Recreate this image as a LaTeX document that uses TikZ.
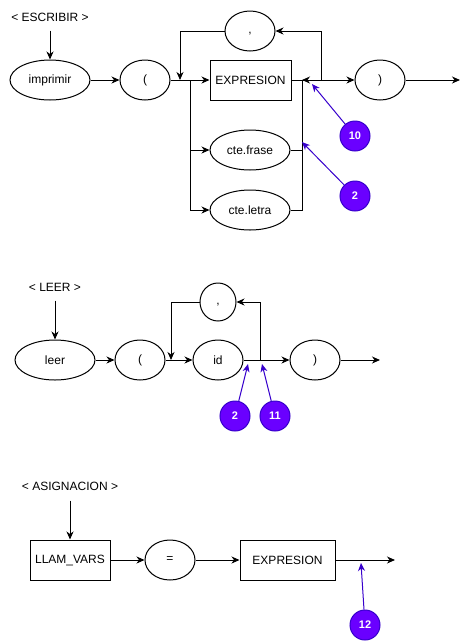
\documentclass[tikz,border=0pt]{standalone}
\usepackage{fontspec}
\setmainfont{Liberation Sans}
\usetikzlibrary{arrows.meta,shapes.geometric}
\definecolor{badgefill}{HTML}{6A00FF}
\definecolor{badgeline}{HTML}{3700CC}
\begin{document}
\begin{tikzpicture}[x=1pt,y=-1pt, font=\fontsize{12}{14}\selectfont,
 line width=1pt,
 arr/.style={-{Stealth[length=8pt,width=7pt,inset=2.5pt]}},
 oval/.style={draw, ellipse, minimum width=#1, minimum height=40pt, inner sep=0pt},
 box/.style={draw, rectangle, minimum width=#1, minimum height=40pt, inner sep=0pt},
 badge/.style={circle, fill=badgefill, draw=badgeline, minimum size=30pt, inner sep=0pt, text=white, font=\fontsize{11}{13}\selectfont\bfseries},
 barr/.style={draw=badgeline, line width=1pt, -{Stealth[length=8pt,width=7pt,inset=2.5pt]}},
 lbl/.style={inner sep=0pt}]
\useasboundingbox (0,0) rectangle (469,641);
% ---------- ESCRIBIR ----------
\node[lbl, minimum height=26pt] (tEsc) at (50,17) {< ESCRIBIR >};
\node[oval=80] (impr) at (50,80) {imprimir};
\node[oval=50] (par1) at (145,80) {(};
\node[oval=50] (coma1) at (250,31) {\strut,};
\node[box=81] (expr1) at (250.5,80) {EXPRESION};
\node[oval=80] (frase) at (250,150) {cte.frase};
\node[oval=80] (letra) at (250,210) {cte.letra};
\node[oval=50] (par2) at (380,80) {)};
\coordinate (j1) at (180,80);
\coordinate (j2) at (190,80);
\coordinate (j3) at (302,80);
\coordinate (j4) at (321,80);
\coordinate (end1) at (460,80);
\draw[arr] (tEsc) -- (impr);
\draw[arr] (impr) -- (par1);
\draw (par1) -- (j2);
\draw[arr] (j2) -- (expr1);
\draw[arr] (j4) |- (coma1.east);
\draw[arr] (coma1.west) -| (j1);
\draw[arr] (j2) |- (letra.west);
\draw[arr] (j2 |- frase) -- (frase.west);
\draw (letra.east) -| (j3);
\draw (frase.east) -- (j3 |- frase);
\draw (expr1.east) -- (j4);
\draw[arr] (j4) -- (j3);
\draw[arr] (j4) -- (par2);
\draw[arr] (par2) -- (end1);
\node[badge] (b10) at (355,136) {10};
\node[badge] (b2a) at (355,196) {2};
\coordinate (t10) at (312,84);
\coordinate (t2a) at (302,142);
\draw[barr] (b10) -- (t10);
\draw[barr] (b2a) -- (t2a);
% ---------- LEER ----------
\node[lbl, minimum height=26pt] (tLeer) at (55,287) {< LEER >};
\node[oval=80] (leer) at (55,360) {leer};
\node[oval=50] (par3) at (140,360) {(};
\node[oval=36, minimum height=38pt] (coma2) at (218,302) {\strut,};
\node[oval=50] (id) at (218,360) {id};
\node[oval=50] (par4) at (315,360) {)};
\coordinate (k1) at (171,360);
\coordinate (k2) at (260,360);
\coordinate (end2) at (380,360);
\draw[arr] (tLeer) -- (leer);
\draw[arr] (leer) -- (par3);
\draw[arr] (par3) -- (id);
\draw[arr] (coma2.west) -| (k1);
\draw (id) -- (k2);
\draw[arr] (k2) |- (coma2.east);
\draw[arr] (k2) -- (par4);
\draw[arr] (par4) -- (end2);
\node[badge] (b2b) at (235,416) {2};
\node[badge] (b11) at (275,416) {11};
\coordinate (t2b) at (248,364);
\coordinate (t11) at (262,364);
\draw[barr] (b2b) -- (t2b);
\draw[barr] (b11) -- (t11);
% ---------- ASIGNACION ----------
\node[lbl, minimum height=28pt] (tAsig) at (70,486) {< ASIGNACION >};
\node[box=80] (llam) at (70,560) {LLAM\_VARS};
\node[oval=50] (eq) at (170,560) {=};
\node[box=95] (expr2) at (287.5,560) {EXPRESION};
\coordinate (end3) at (395,560);
\draw[arr] (tAsig) -- (llam);
\draw[arr] (llam) -- (eq);
\draw[arr] (eq) -- (expr2);
\draw[arr] (expr2) -- (end3);
\node[badge] (b12) at (365,625) {12};
\coordinate (t12) at (361,563);
\draw[barr] (b12) -- (t12);
\end{tikzpicture}
\end{document}
